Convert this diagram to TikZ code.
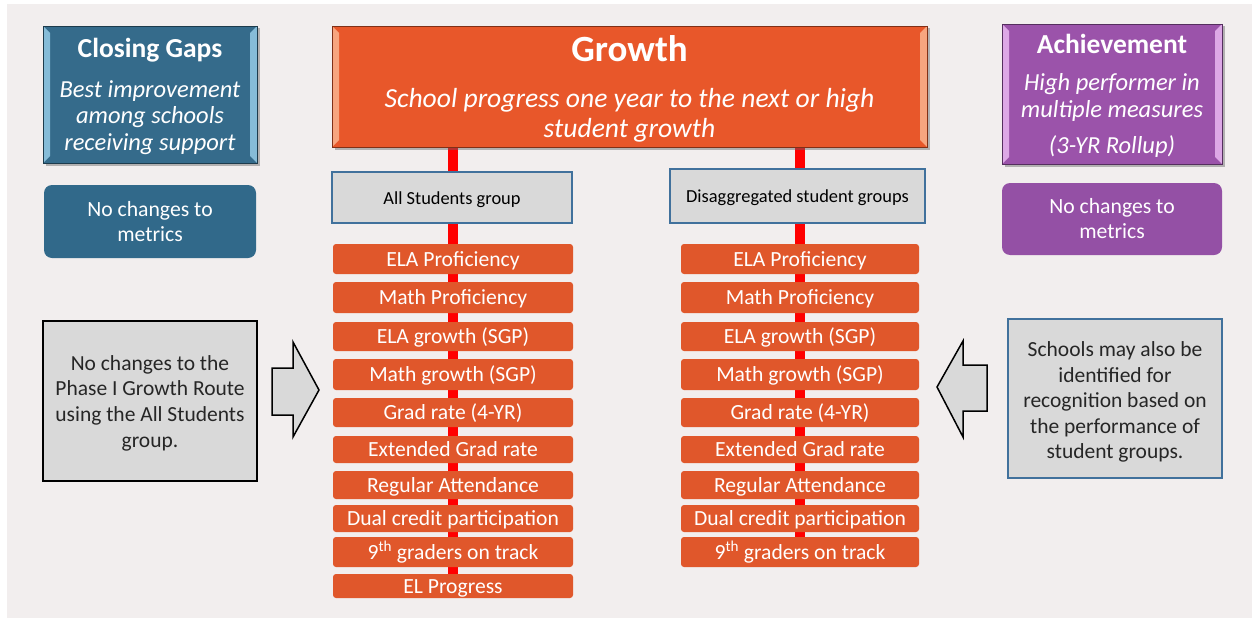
\documentclass[tikz,border=0pt]{standalone}
\usepackage{fontspec}
\setmainfont{Carlito}
\usepackage{tikz}
\usetikzlibrary{shadows}
\tikzset{>=stealth}

\definecolor{pagebg}{HTML}{F2EEEE}
\definecolor{gapblue}{HTML}{356B8B}
\definecolor{gapbluelt}{HTML}{86BCD8}
\definecolor{metblue}{HTML}{31698A}
\definecolor{groworange}{HTML}{E8572A}
\definecolor{growlt}{HTML}{F7A57F}
\definecolor{itemorange}{HTML}{E0572B}
\definecolor{achpurple}{HTML}{9B53AA}
\definecolor{achlt}{HTML}{DDA8E6}
\definecolor{metpurple}{HTML}{9450A5}
\definecolor{boxgray}{HTML}{D9D9D9}
\definecolor{edgeblue}{HTML}{41719C}
\definecolor{txtgray}{HTML}{262626}

\pgfdeclarelayer{back}
\pgfdeclarelayer{lines}
\pgfsetlayers{back,lines,main}

\newcommand\headfont{\fontsize{27.5}{30}\selectfont\bfseries\upshape}
\newcommand\lift[1]{\rule{0pt}{#1}}

\tikzset{
  headbox/.style={line width=0.8pt, text=white, align=center, inner sep=0pt,
    font=\fontsize{24.5}{26.5}\selectfont\itshape,
    drop shadow={shadow xshift=2.5pt, shadow yshift=-2.5pt, opacity=.45, fill=black!60}},
  bevel/.style={path picture={
    \fill[#1] (path picture bounding box.north west) -- ([shift={(7pt,-7pt)}]path picture bounding box.north west)
      -- ([shift={(7pt,7pt)}]path picture bounding box.south west) -- (path picture bounding box.south west) -- cycle;
    \fill[#1] (path picture bounding box.north east) -- ([shift={(-7pt,-7pt)}]path picture bounding box.north east)
      -- ([shift={(-7pt,7pt)}]path picture bounding box.south east) -- (path picture bounding box.south east) -- cycle;}},
  nochange/.style={rounded corners=8pt, text=white, align=center, inner sep=0pt,
    font=\fontsize{21.7}{25}\selectfont},
  groupbox/.style={fill=boxgray, draw=edgeblue, line width=1.2pt, inner sep=0pt,
    text height=13pt, text depth=0pt, font=\fontsize{18.4}{20}\selectfont},
  notebox/.style={fill=boxgray, line width=1.5pt, text=txtgray, align=center, inner sep=0pt,
    font=\fontsize{21.5}{25.6}\selectfont},
  metric/.style={fill=itemorange, rounded corners=3pt, text=white, inner sep=0pt,
    text height=16.5pt, text depth=2pt, font=\fontsize{21.6}{23}\selectfont},
  redline/.style={red, line width=9.5pt},
  blockarrow/.style={fill=boxgray, draw=black, line width=1.5pt, line join=miter},
}

\begin{document}
\begin{tikzpicture}[x=1pt,y=-1pt]
\useasboundingbox (0,0) rectangle (1252,618);
\begin{pgfonlayer}{back}
  \fill[pagebg] (7,4) rectangle (1252,618);
\end{pgfonlayer}

% three headline boxes
\node[headbox, fill=gapblue, draw=gapblue!55!black, bevel=gapbluelt,
  minimum width=214pt, minimum height=137pt] (gaps) at (150,94.5)
  {{\headfont\lift{23.5pt}Closing Gaps}\\[13pt] Best improvement\\ among schools\\ receiving support};
\node[headbox, fill=groworange, draw=groworange!55!black, bevel=growlt,
  minimum width=595pt, minimum height=121pt, font=\fontsize{27.6}{30}\selectfont\itshape] (growth) at (629.5,86.5)
  {{\fontsize{37}{40}\selectfont\bfseries\upshape\lift{30pt}Growth}\\[16pt] School progress one year to the next or high\\ student growth};
\node[headbox, fill=achpurple, draw=achpurple!55!black, bevel=achlt,
  minimum width=220pt, minimum height=140pt] (ach) at (1112,94)
  {{\headfont\lift{22.5pt}Achievement}\\[11pt] High performer in\\ multiple measures\\[10pt] (3-YR Rollup)};

\node[nochange, fill=metblue, minimum width=212pt, minimum height=73pt] (gapsnote) at (150,221.5) {No changes to\\ metrics};
\node[nochange, fill=metpurple, minimum width=220pt, minimum height=72pt] (achnote) at (1112,219) {No changes to\\ metrics};

% student groups
\node[groupbox, minimum width=240pt, minimum height=51pt] (allgrp) at (452,197.5) {All Students group};
\node[groupbox, minimum width=255pt, minimum height=54pt] (disgrp) at (797.5,196) {Disaggregated student groups};

% metric lists
\foreach \y/\h/\t [count=\i] in {259/30/ELA Proficiency, 297.5/31/Math Proficiency,
    336.5/29/ELA growth (SGP), 374.5/31/Math growth (SGP), 412.5/29/Grad rate (4-YR),
    449.5/27/Extended Grad rate, 485/28/Regular Attendance, 518.5/27/Dual credit participation,
    552/30/9\textsuperscript{th} graders on track, 586/24/EL Progress}{
  \node[metric, minimum width=240pt, minimum height=\h pt] (l\i) at (453,\y) {\t};
  \ifnum\i<10
    \node[metric, minimum width=238pt, minimum height=\h pt] (r\i) at (800,\y) {\t};
  \fi
}

\begin{pgfonlayer}{lines}
  \draw[redline] (growth.south -| l1.center) -- (l10.center);
  \draw[redline] (growth.south -| r1.center) -- (r9.center);
\end{pgfonlayer}

% side notes and block arrows
\node[notebox, draw=black, minimum width=214pt, minimum height=160pt] (phase) at (150,401)
  {\lift{19pt}No changes to the\\ Phase I Growth Route\\ using the All Students\\ group.};
\node[notebox, draw=edgeblue, minimum width=214pt, minimum height=159pt] (recog) at (1115,398.5)
  {\lift{22pt}Schools may also be\\ identified for\\ recognition based on\\ the performance of\\ student groups.};

\filldraw[blockarrow] (272,368) -- (293,368) -- (293,342) -- (319,390) -- (293,437) -- (293,415) -- (272,415) -- cycle;
\filldraw[blockarrow] (987,365) -- (963,365) -- (963,341) -- (937,387) -- (963,437) -- (963,411) -- (987,411) -- cycle;
\end{tikzpicture}
\end{document}
